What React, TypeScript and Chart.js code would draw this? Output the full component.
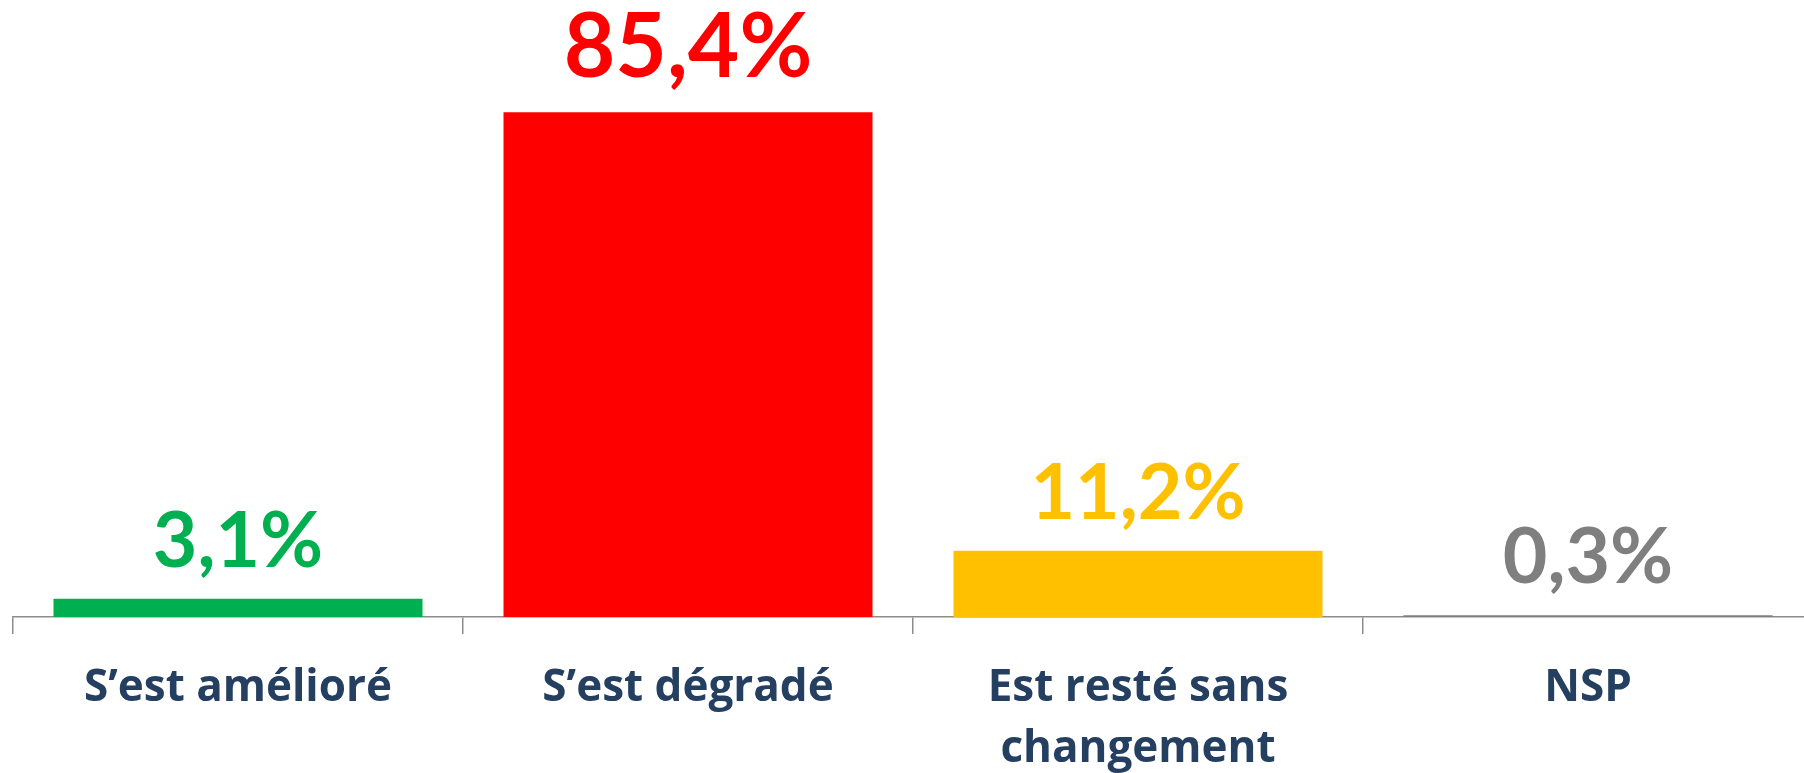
import React, { useEffect, useRef } from "react";
import { Chart, registerables } from "chart.js";

Chart.register(...registerables);

const categories: (string | string[])[] = [
  "S’est amélioré",
  "S’est dégradé",
  ["Est resté sans", "changement"],
  "NSP",
];
const values: number[] = [3.1, 85.4, 11.2, 0.3];
const barColors: string[] = ["#00B050", "#FF0000", "#FFC000", "#7F7F7F"];
const labelColors: string[] = ["#00B050", "#FF0000", "#FFC000", "#7F7F7F"];
const labelFontSizes: number[] = [77, 89, 77, 77];

const fmt = (v: number) => v.toFixed(1).replace(".", ",") + "%";

const valueLabels = {
  id: "valueLabels",
  afterDatasetsDraw(chart: any) {
    const ctx = chart.ctx;
    const meta = chart.getDatasetMeta(0);
    ctx.save();
    meta.data.forEach((bar: any, i: number) => {
      const v = chart.data.datasets[0].data[i] as number;
      ctx.font = `bold ${labelFontSizes[i]}px Lato`;
      ctx.fillStyle = labelColors[i];
      ctx.textAlign = "center";
      ctx.textBaseline = "alphabetic";
      const off = labelFontSizes[i] > 80 ? 35 : 32;
      ctx.fillText(fmt(v), bar.x, bar.y - off);
    });
    ctx.restore();
  },
};

export default function App() {
  const ref = useRef<HTMLCanvasElement | null>(null);
  useEffect(() => {
    if (!ref.current) return;
    const chart = new Chart(ref.current, {
      type: "bar",
      data: {
        labels: categories,
        datasets: [
          {
            data: values,
            backgroundColor: barColors,
            borderWidth: 0,
            categoryPercentage: 1,
            barPercentage: 0.82,
          },
        ],
      },
      options: {
        responsive: false,
        animation: false,
        devicePixelRatio: 1,
        layout: { padding: { left: 13, right: 17, top: 26, bottom: 0 } },
        plugins: {
          legend: { display: false },
          tooltip: { enabled: false },
        },
        scales: {
          x: {
            grid: {
              display: true,
              drawOnChartArea: false,
              drawTicks: true,
              tickLength: 17,
              color: "#8C8C8C",
              lineWidth: 1.5,
            },
            border: { display: true, color: "#8C8C8C", width: 1.5 },
            ticks: {
              autoSkip: false,
              maxRotation: 0,
              minRotation: 0,
              padding: 24,
              color: "#243F60",
              font: { family: "'Open Sans'", size: 44, weight: "bold", lineHeight: 1.38 },
            },
            afterFit: (scale: any) => {
              scale.height = 156;
            },
          },
          y: {
            display: false,
            min: 0,
            max: 100,
          },
        },
      },
      plugins: [valueLabels],
    });
    return () => chart.destroy();
  }, []);
  return (
    <div
      style={{
        position: "fixed",
        left: 0,
        top: 0,
        width: 1804,
        height: 773,
        overflow: "hidden",
        background: "#fff",
      }}
    >
      <canvas ref={ref} width={1830} height={773} style={{ display: "block" }} />
    </div>
  );
}
